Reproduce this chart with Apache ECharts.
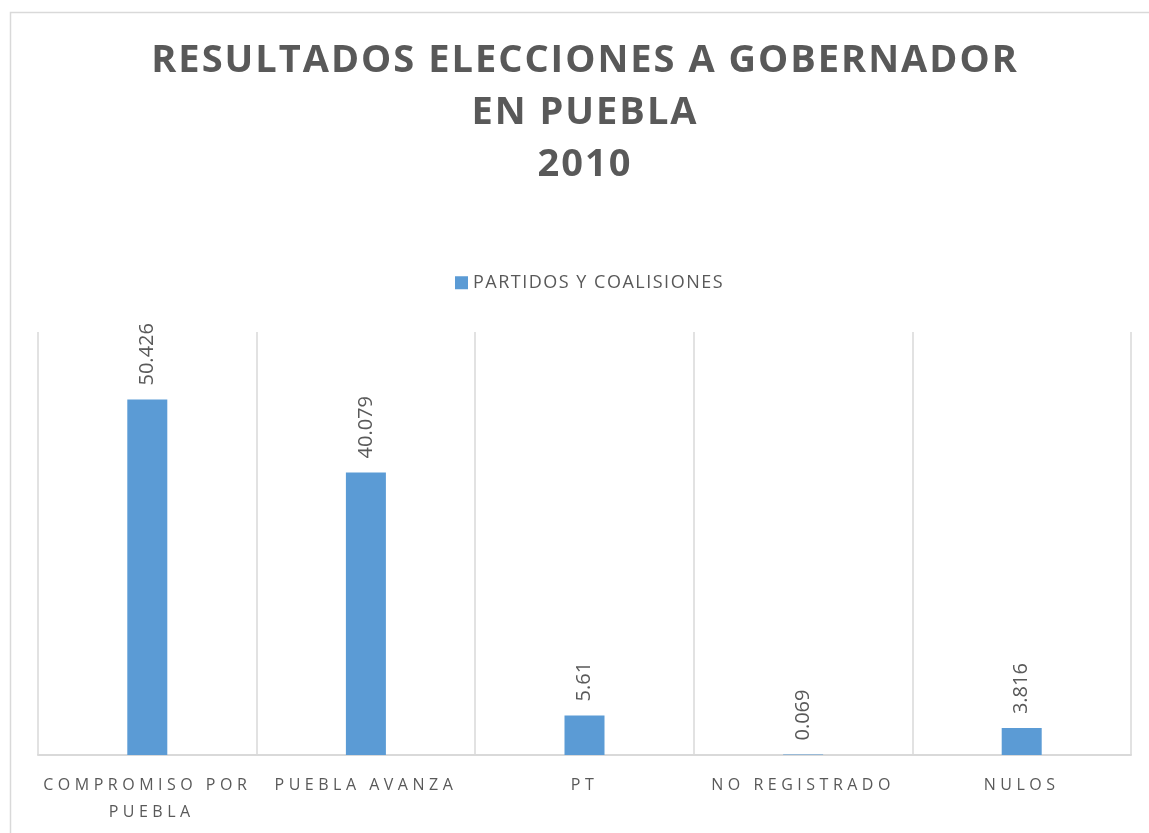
<!DOCTYPE html>
<html>
<head>
<meta charset="utf-8">
<script src="https://cdn.jsdelivr.net/npm/echarts@6/dist/echarts.min.js"></script>
<style>
  html,body{margin:0;padding:0;background:#fff;}
  #chart{width:1149px;height:833px;}
</style>
</head>
<body>
<div id="chart"></div>
<script>
// 分类
var categories=["COMPROMISO POR PUEBLA","PUEBLA AVANZA","PT","NO REGISTRADO","NULOS"];
// 数值
var votos=[50.426,40.079,5.61,0.069,3.816];
var serieName="PARTIDOS Y COALISIONES";

var textGray="#595959";
var lineGray="#d9d9d9";

// 字间距: 字体名里带 "lsNN" 时设置 letterSpacing (NN/10 px)
var fontDesc=Object.getOwnPropertyDescriptor(CanvasRenderingContext2D.prototype,"font");
Object.defineProperty(CanvasRenderingContext2D.prototype,"font",{
  get:function(){return fontDesc.get.call(this);},
  set:function(v){
    fontDesc.set.call(this,v);
    var m=/ls(\d+)/.exec(v);
    this.letterSpacing=m?(m[1]/10)+"px":"0px";
  }
});

var chart=echarts.init(document.getElementById("chart"));
chart.setOption({
  animation:false,
  backgroundColor:"#fff",
  // 外框
  graphic:[{
    type:"rect",
    left:8,
    top:10,
    shape:{width:1200,height:900},
    style:{fill:"none",stroke:lineGray,lineWidth:1.5}
  }],
  title:{
    text:"RESULTADOS ELECCIONES A GOBERNADOR\nEN PUEBLA\n2010",
    left:580,
    top:30,
    textAlign:"center",
    textStyle:{
      fontFamily:"'Open Sans', ls20",
      fontSize:38,
      fontWeight:"bold",
      color:textGray,
      lineHeight:52
    }
  },
  legend:{
    data:[serieName],
    left:450,
    top:268,
    icon:"rect",
    itemWidth:13,
    itemHeight:13,
    itemGap:6,
    textStyle:{fontFamily:"'Open Sans', ls15",fontSize:18,color:textGray}
  },
  grid:{left:38,right:18,top:332,bottom:78},
  xAxis:{
    type:"category",
    data:categories,
    axisLine:{lineStyle:{color:lineGray,width:2}},
    axisTick:{show:false},
    splitLine:{show:true,lineStyle:{color:lineGray,width:1.5}},
    axisLabel:{
      interval:0,
      margin:17,
      width:216,
      overflow:"break",
      fontFamily:"'Open Sans', ls45",
      fontSize:16,
      color:textGray,
      lineHeight:27
    }
  },
  yAxis:{
    type:"value",
    min:0,
    max:60,
    show:false,
    splitLine:{show:false}
  },
  series:[{
    name:serieName,
    type:"bar",
    data:votos,
    barWidth:40,
    itemStyle:{color:"#5b9bd5"},
    label:{
      show:true,
      position:"top",
      rotate:90,
      align:"left",
      verticalAlign:"middle",
      distance:14,
      fontFamily:"'Open Sans'",
      fontSize:20,
      color:textGray
    }
  }]
});
</script>
</body>
</html>
